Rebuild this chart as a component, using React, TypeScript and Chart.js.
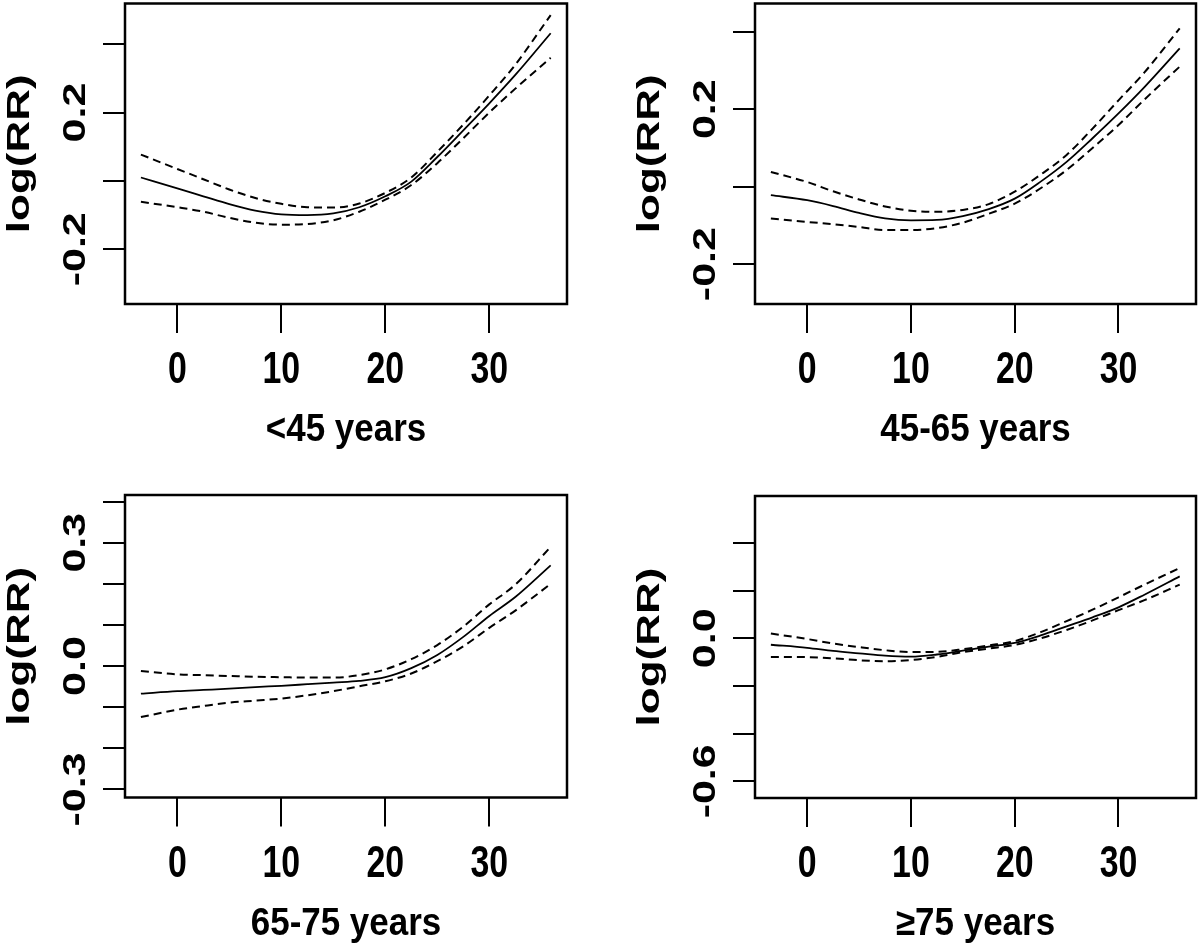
import React, { useEffect, useRef } from "react";
import { Chart, registerables } from "chart.js";

Chart.register(...registerables);

// ---------- data ----------
const temps = [-3.5, 0, 2.5, 5, 7.5, 10, 12.5, 15, 17.5, 20, 22.5, 25, 27.5, 30, 32.5, 35.9];

const xTicks = [0, 10, 20, 30];
const xTickLabels = ["0", "10", "20", "30"];

const panelTitles = ["<45 years", "45-65 years", "65-75 years", "≥75 years"];
const yTitle = "log(RR)";

// <45 years
const est1 = [0.01, -0.022, -0.045, -0.068, -0.087, -0.098, -0.1, -0.095, -0.077, -0.045, -0.002, 0.07, 0.148, 0.227, 0.31, 0.432];
const hi1 = [0.077, 0.035, 0.005, -0.025, -0.05, -0.067, -0.077, -0.078, -0.066, -0.035, 0.01, 0.085, 0.165, 0.25, 0.34, 0.485];
const lo1 = [-0.061, -0.077, -0.09, -0.108, -0.122, -0.128, -0.126, -0.115, -0.09, -0.055, -0.012, 0.052, 0.125, 0.2, 0.27, 0.36];

// 45-65 years
const est2 = [-0.022, -0.035, -0.05, -0.068, -0.082, -0.087, -0.086, -0.076, -0.058, -0.031, 0.013, 0.064, 0.125, 0.189, 0.257, 0.357];
const hi2 = [0.038, 0.012, -0.012, -0.033, -0.051, -0.062, -0.065, -0.06, -0.045, -0.013, 0.031, 0.082, 0.15, 0.223, 0.295, 0.409];
const lo2 = [-0.082, -0.091, -0.097, -0.104, -0.112, -0.112, -0.107, -0.093, -0.07, -0.044, -0.004, 0.043, 0.1, 0.159, 0.225, 0.31];

// 65-75 years
const est3 = [-0.067, -0.061, -0.058, -0.055, -0.051, -0.048, -0.044, -0.04, -0.036, -0.027, -0.005, 0.027, 0.071, 0.122, 0.168, 0.245];
const hi3 = [-0.012, -0.02, -0.022, -0.024, -0.026, -0.027, -0.028, -0.028, -0.022, -0.008, 0.017, 0.051, 0.096, 0.15, 0.198, 0.29];
const lo3 = [-0.124, -0.106, -0.097, -0.089, -0.084, -0.079, -0.071, -0.061, -0.049, -0.037, -0.018, 0.012, 0.048, 0.093, 0.135, 0.2];

// >=75 years
const est4 = [-0.027, -0.04, -0.053, -0.063, -0.073, -0.077, -0.068, -0.052, -0.035, -0.019, 0.012, 0.05, 0.088, 0.13, 0.183, 0.26];
const hi4 = [0.02, -0.003, -0.022, -0.037, -0.05, -0.058, -0.057, -0.046, -0.03, -0.012, 0.026, 0.072, 0.12, 0.172, 0.225, 0.295];
const lo4 = [-0.078, -0.079, -0.084, -0.092, -0.096, -0.091, -0.078, -0.058, -0.043, -0.028, 0.0, 0.035, 0.075, 0.118, 0.16, 0.225];

const yTicks1 = [-0.2, 0, 0.2, 0.4];
const yTickLabels1 = ["-0.2", "", "0.2", ""];
const yTicks2 = [-0.2, 0, 0.2, 0.4];
const yTickLabels2 = ["-0.2", "", "0.2", ""];
const yTicks3 = [-0.3, -0.2, -0.1, 0, 0.1, 0.2, 0.3, 0.4];
const yTickLabels3 = ["-0.3", "", "", "0.0", "", "", "0.3", ""];
const yTicks4 = [-0.6, -0.4, -0.2, 0, 0.2, 0.4];
const yTickLabels4 = ["-0.6", "", "", "0.0", "", ""];

const xRange = [-5.03, 37.47];
const yRange1 = [-0.36, 0.519];
const yRange2 = [-0.303, 0.473];
const yRange3 = [-0.3195, 0.416];
const yRange4 = [-0.67, 0.597];

// ---------- layout ----------
const FONT = '"Liberation Sans", Arial, Helvetica, sans-serif';
const W = 600;
const Y_AXIS_W = 30;
const X_AXIS_H = 40;

type Spec = {
  left: number;
  top: number;
  h: number;
  area: { l: number; r: number; t: number; b: number };
  est: number[];
  hi: number[];
  lo: number[];
  yTicks: number[];
  yTickLabels: string[];
  yRange: number[];
  title: string;
};

const specs: Spec[] = [
  { left: 0, top: 0, h: 476, area: { l: 125, r: 567, t: 3.5, b: 304 }, est: est1, hi: hi1, lo: lo1, yTicks: yTicks1, yTickLabels: yTickLabels1, yRange: yRange1, title: panelTitles[0] },
  { left: 600, top: 0, h: 476, area: { l: 155, r: 596, t: 3.5, b: 304 }, est: est2, hi: hi2, lo: lo2, yTicks: yTicks2, yTickLabels: yTickLabels2, yRange: yRange2, title: panelTitles[1] },
  { left: 0, top: 476, h: 475, area: { l: 125, r: 567, t: 19, b: 321.5 }, est: est3, hi: hi3, lo: lo3, yTicks: yTicks3, yTickLabels: yTickLabels3, yRange: yRange3, title: panelTitles[2] },
  { left: 600, top: 476, h: 475, area: { l: 155, r: 596, t: 20, b: 322 }, est: est4, hi: hi4, lo: lo4, yTicks: yTicks4, yTickLabels: yTickLabels4, yRange: yRange4, title: panelTitles[3] },
];

const panelPlugin = {
  id: "panelText",
  afterDraw(chart: any, _args: any, opts: any) {
    const { ctx, chartArea } = chart;
    const xs = chart.scales.x;
    const ys = chart.scales.y;
    ctx.save();
    // box
    ctx.strokeStyle = "#000";
    ctx.lineWidth = 2.5;
    ctx.strokeRect(chartArea.left, chartArea.top, chartArea.right - chartArea.left, chartArea.bottom - chartArea.top);
    ctx.fillStyle = "#000";
    ctx.textAlign = "center";
    ctx.textBaseline = "alphabetic";

    // x tick labels
    ctx.font = `bold 44px ${FONT}`;
    opts.xTicks.forEach((v: number, i: number) => {
      const px = xs.getPixelForValue(v);
      ctx.save();
      ctx.translate(px, chartArea.bottom + 79);
      ctx.scale(0.77, 1);
      ctx.fillText(opts.xTickLabels[i], 0, 0);
      ctx.restore();
    });

    // y tick labels (rotated)
    ctx.font = `bold 43px ${FONT}`;
    opts.yTicks.forEach((v: number, i: number) => {
      const lab = opts.yTickLabels[i];
      if (!lab) return;
      const py = ys.getPixelForValue(v);
      ctx.save();
      ctx.translate(chartArea.left - 40, py);
      ctx.rotate(-Math.PI / 2);
      ctx.scale(1, 0.72);
      ctx.fillText(lab, 0, 0);
      ctx.restore();
    });

    // y title
    ctx.font = `bold 44px ${FONT}`;
    ctx.save();
    ctx.translate(chartArea.left - 96, (chartArea.top + chartArea.bottom) / 2);
    ctx.rotate(-Math.PI / 2);
    ctx.scale(1, 0.72);
    ctx.fillText(opts.yTitle, 0, 0);
    ctx.restore();

    // x title
    ctx.font = `bold 38px ${FONT}`;
    ctx.save();
    ctx.translate((chartArea.left + chartArea.right) / 2, chartArea.bottom + 137);
    ctx.scale(0.92, 1);
    ctx.fillText(opts.title, 0, 0);
    ctx.restore();

    ctx.restore();
  },
};

function Panel({ spec }: { spec: Spec }) {
  const ref = useRef<HTMLCanvasElement>(null);
  useEffect(() => {
    if (!ref.current) return;
    const mk = (arr: number[]) => temps.map((t, i) => ({ x: t, y: arr[i] }));
    const lineBase = {
      borderColor: "#000",
      pointRadius: 0,
      cubicInterpolationMode: "monotone" as const,
      fill: false,
    };
    const gridBase = {
      display: true,
      drawOnChartArea: false,
      drawTicks: true,
      tickWidth: 2,
      tickColor: "#000",
      color: "#000",
      lineWidth: 2,
    };
    const chart = new Chart(ref.current, {
      type: "line",
      data: {
        datasets: [
          { ...lineBase, label: "upper", data: mk(spec.hi), borderWidth: 2, borderDash: [8, 5] },
          { ...lineBase, label: "estimate", data: mk(spec.est), borderWidth: 1.8 },
          { ...lineBase, label: "lower", data: mk(spec.lo), borderWidth: 2, borderDash: [8, 5] },
        ],
      },
      options: {
        responsive: false,
        maintainAspectRatio: false,
        animation: false,
        devicePixelRatio: 1,
        layout: {
          padding: {
            left: spec.area.l - Y_AXIS_W,
            right: W - spec.area.r,
            top: spec.area.t,
            bottom: spec.h - spec.area.b - X_AXIS_H,
          },
        },
        plugins: {
          legend: { display: false },
          tooltip: { enabled: false },
          panelText: {
            xTicks,
            xTickLabels,
            yTicks: spec.yTicks,
            yTickLabels: spec.yTickLabels,
            yTitle,
            title: spec.title,
          },
        } as any,
        scales: {
          x: {
            type: "linear",
            min: xRange[0],
            max: xRange[1],
            afterBuildTicks: (s: any) => {
              s.ticks = xTicks.map((v) => ({ value: v }));
            },
            afterFit: (s: any) => {
              s.height = X_AXIS_H;
            },
            ticks: { display: false },
            grid: { ...gridBase, tickLength: 29 },
            border: { display: false },
          },
          y: {
            type: "linear",
            min: spec.yRange[0],
            max: spec.yRange[1],
            afterBuildTicks: (s: any) => {
              s.ticks = spec.yTicks.map((v) => ({ value: v }));
            },
            afterFit: (s: any) => {
              s.width = Y_AXIS_W;
            },
            ticks: { display: false },
            grid: { ...gridBase, tickLength: 22 },
            border: { display: false },
          },
        },
      },
      plugins: [panelPlugin],
    });
    return () => chart.destroy();
  }, [spec]);
  return (
    <canvas
      ref={ref}
      width={W}
      height={spec.h}
      style={{ position: "absolute", left: spec.left, top: spec.top, width: W, height: spec.h }}
    />
  );
}

export default function App() {
  return (
    <div style={{ position: "absolute", left: 0, top: 0, width: 1200, height: 951, background: "#fff", overflow: "hidden" }}>
      {specs.map((s, i) => (
        <Panel key={i} spec={s} />
      ))}
    </div>
  );
}
